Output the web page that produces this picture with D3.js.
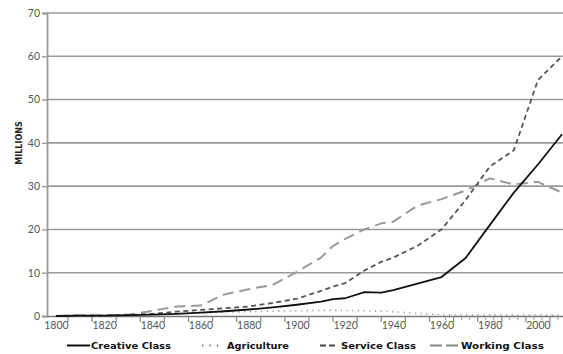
<!DOCTYPE html>
<html><head><meta charset="utf-8">
<script src="https://cdn.jsdelivr.net/npm/d3@7"></script>
<style>
body{margin:0;background:#fff;}
svg{display:block;}
</style></head>
<body><svg id="c" width="563" height="354"></svg>
<script>
const years = [1800,1810,1820,1830,1840,1850,1860,1870,1880,1890,1900,1910,1915,1920,1928,1935,1940,1950,1960,1970,1980,1990,2000,2010];
const creative =    [0,0.1,0.1,0.2,0.3,0.5,0.8,1.1,1.5,2.0,2.6,3.3,3.9,4.1,5.5,5.4,6.0,7.5,9.0,13.4,21.0,28.5,35,42];
const agriculture = [0,0.1,0.1,0.2,0.3,0.5,0.7,0.9,1.0,1.1,1.2,1.3,1.3,1.3,1.2,1.1,1.0,0.6,0.3,0.2,0.2,0.2,0.2,0.2];
const service =     [0,0.1,0.1,0.2,0.5,1.0,1.4,1.8,2.2,3.0,4.0,5.8,6.8,7.6,10.5,12.5,13.5,16.2,20,26.8,34.5,38.3,54.5,60];
const working =     [0,0.1,0.1,0.3,1.2,2.2,2.4,5.0,6.2,7.2,10.2,13.5,16.2,17.8,20,21.4,21.8,25.5,27,29,31.8,30.4,31,28.5];
const yTicks = [0,10,20,30,40,50,60,70];
const xLabels = [1800,1820,1840,1860,1880,1900,1920,1940,1960,1980,2000];
const seriesNames = ["Creative Class","Agriculture","Service Class","Working Class"];

const svg = d3.select("#c");
const x = d3.scaleLinear().domain([1796.3, 2010.4]).range([47, 563]);
const y = d3.scaleLinear().domain([0, 70]).range([316, 13]);

// gridlines
svg.append("g").selectAll("line").data(yTicks.filter(d=>d>0)).join("line")
  .attr("x1",47).attr("x2",563).attr("y1",d=>y(d)).attr("y2",d=>y(d))
  .attr("stroke","#9a9a9a").attr("stroke-width",1.6);

// y axis
const ya = svg.append("g").attr("transform","translate(47,0)")
  .call(d3.axisLeft(y).tickValues(yTicks).tickSize(5).tickPadding(2));
ya.select(".domain").attr("stroke","#9a9a9a").attr("stroke-width",1.8);
ya.selectAll(".tick line").attr("stroke","#9a9a9a").attr("stroke-width",1.4);
ya.selectAll("text").attr("fill","#555").style("font-family","Lato, 'DejaVu Sans', sans-serif").style("font-size","10.5px");

// x axis
const xa = svg.append("g").attr("transform","translate(0,316)")
  .call(d3.axisBottom(x).tickValues(xLabels).tickFormat(d3.format("d")).tickSize(0).tickPadding(6));
xa.select(".domain").attr("stroke","#777").attr("stroke-width",1.6);
xa.selectAll("text").attr("fill","#555").style("font-family","Lato, 'DejaVu Sans', sans-serif").style("font-size","10.5px");
const majT = d3.range(1805, 2010, 10);
const minT = d3.range(1961.67, 2010, 10/3).filter(d => !majT.some(m => Math.abs(m-d) < 1));
svg.append("g").selectAll("line").data(majT).join("line")
  .attr("x1",d=>x(d)).attr("x2",d=>x(d)).attr("y1",316).attr("y2",322)
  .attr("stroke","#888").attr("stroke-width",1.2);
svg.append("g").selectAll("line").data(minT).join("line")
  .attr("x1",d=>x(d)).attr("x2",d=>x(d)).attr("y1",316).attr("y2",320)
  .attr("stroke","#999").attr("stroke-width",1);

// y label
svg.append("text").attr("transform","translate(22,143) rotate(-90)")
  .attr("text-anchor","middle").attr("fill","#222")
  .style("font-family","'DejaVu Sans', sans-serif").style("font-weight","bold").style("font-size","8px")
  .text("MILLIONS");

const styles = [
  {vals:creative, color:"#111", w:1.8, dash:null},
  {vals:agriculture, color:"#999", w:1.6, dash:"1.2,4.5"},
  {vals:service, color:"#555", w:1.8, dash:"5,3.5"},
  {vals:working, color:"#999", w:2, dash:"11,6"}
];
const line = d3.line().x((d,i)=>x(years[i])).y(d=>y(d));
[3,2,1,0].forEach(k=>{
  const s = styles[k];
  svg.append("path").datum(s.vals).attr("d",line)
    .attr("fill","none").attr("stroke",s.color).attr("stroke-width",s.w)
    .attr("stroke-dasharray",s.dash).attr("stroke-linejoin","round");
});

// legend
const leg = [
  {x1:67,x2:90,tx:90,tw:80},
  {x1:202,x2:221,tx:226,tw:62},
  {x1:320,x2:337,tx:340,tw:75},
  {x1:430,x2:458,tx:460,tw:83}
];
const legColors = ["#111","#777","#444","#888"];
const legDash = [null,"1.4,6","6,3","12,4"];
leg.forEach((l,i)=>{
  svg.append("line").attr("x1",l.x1).attr("x2",l.x2).attr("y1",345.5).attr("y2",345.5)
    .attr("stroke",legColors[i]).attr("stroke-width",2).attr("stroke-dasharray",legDash[i]);
  svg.append("text").attr("x",l.tx+1).attr("y",349).attr("fill","#111")
    .attr("textLength",l.tw).attr("lengthAdjust","spacingAndGlyphs")
    .style("font-family","'DejaVu Sans', sans-serif").style("font-weight","bold").style("font-size","9.5px")
    .text(seriesNames[i]);
});
</script></body></html>
